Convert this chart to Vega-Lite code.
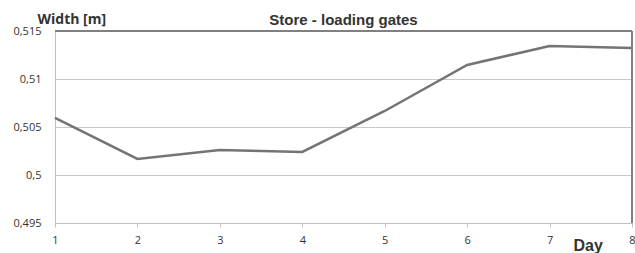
{
  "$schema": "https://vega.github.io/schema/vega-lite/v6.json",
  "width": 577,
  "height": 192,
  "autosize": "none",
  "padding": {"left": 55, "top": 31, "right": 3, "bottom": 30},
  "background": "white",
  "config": {"view": {"stroke": null}},
  "title": {
    "text": "Store - loading gates",
    "anchor": "middle",
    "font": "Liberation Sans",
    "fontSize": 15,
    "fontWeight": "bold",
    "color": "#333333",
    "offset": -16
  },
  "data": {
    "values": [
      {"day": 1, "width": 0.50594},
      {"day": 2, "width": 0.50167},
      {"day": 3, "width": 0.5026},
      {"day": 4, "width": 0.5024},
      {"day": 5, "width": 0.50667},
      {"day": 6, "width": 0.51146},
      {"day": 7, "width": 0.51344},
      {"day": 8, "width": 0.51323}
    ]
  },
  "layer": [
    {
      "mark": {"type": "line", "color": "#747474", "strokeWidth": 2.5},
      "encoding": {
        "x": {
          "field": "day",
          "type": "quantitative",
          "scale": {"domain": [1, 8], "nice": false, "zero": false},
          "axis": {
            "values": [1, 2, 3, 4, 5, 6, 7, 8],
            "format": "d",
            "grid": false,
            "domainColor": "#c0c0c0",
            "tickColor": "#c0c0c0",
            "tickSize": 4,
            "labelPadding": 7,
            "labelFont": "Open Sans",
            "labelFontSize": 11,
            "labelColor": "#333333",
            "labelFlush": false,
            "title": "Day",
            "titleFont": "Liberation Sans",
            "titleFontSize": 16,
            "titleFontWeight": "bold",
            "titleColor": "#333333",
            "titleAlign": "left",
            "titleBaseline": "alphabetic",
            "titleAnchor": null,
            "titleX": 518,
            "titleY": 27
          }
        },
        "y": {
          "field": "width",
          "type": "quantitative",
          "scale": {"domain": [0.495, 0.515], "nice": false, "zero": false},
          "axis": {
            "values": [0.495, 0.5, 0.505, 0.51, 0.515],
            "labelExpr": "replace(format(datum.value, '.3~f'), '.', ',')",
            "grid": true,
            "gridColor": "#c8c8c8",
            "gridWidth": 1,
            "domainColor": "#c0c0c0",
            "ticks": false,
            "labelPadding": 14,
            "labelFont": "Open Sans",
            "labelFontSize": 11,
            "labelColor": "#333333",
            "title": "Width [m]",
            "titleFont": "Open Sans",
            "titleFontSize": 14,
            "titleFontWeight": "bold",
            "titleColor": "#333333",
            "titleAngle": 0,
            "titleAlign": "left",
            "titleBaseline": "alphabetic",
            "titleAnchor": null,
            "titleX": -18,
            "titleY": -8
          }
        }
      }
    },
    {
      "mark": {"type": "rule", "color": "#808080", "strokeWidth": 1.5},
      "encoding": {"y": {"datum": 0.515, "type": "quantitative"}}
    },
    {
      "mark": {"type": "rule", "color": "#808080", "strokeWidth": 1.5},
      "encoding": {"x": {"datum": 8, "type": "quantitative"}}
    }
  ]
}
